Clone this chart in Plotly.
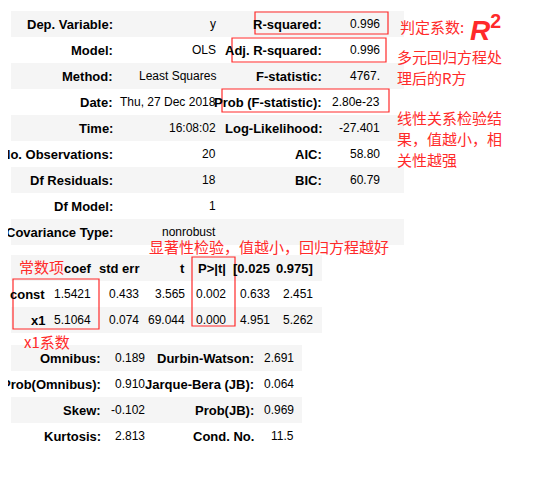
import plotly.graph_objects as go

# top summary block
top_lab1 = ["Dep. Variable:", "Model:", "Method:", "Date:", "Time:", "No. Observations:",
            "Df Residuals:", "Df Model:", "Covariance Type:"]
top_val1 = ["y", "OLS", "Least Squares", "Thu, 27 Dec 2018", "16:08:02", "20", "18", "1", "nonrobust"]
top_lab2 = ["R-squared:", "Adj. R-squared:", "F-statistic:", "Prob (F-statistic):",
            "Log-Likelihood:", "AIC:", "BIC:", "", ""]
top_val2 = ["0.996", "0.996", "4767.", "2.80e-23", "-27.401", "58.80", "60.79", "", ""]

# coefficient block
coef_header = ["", "coef", "std err", "t", "P>|t|", "[0.025", "0.975]"]
coef_rows = [["const", "1.5421", "0.433", "3.565", "0.002", "0.633", "2.451"],
             ["x1", "5.1064", "0.074", "69.044", "0.000", "4.951", "5.262"]]

# diagnostics block
diag_lab1 = ["Omnibus:", "Prob(Omnibus):", "Skew:", "Kurtosis:"]
diag_val1 = ["0.189", "0.910", "-0.102", "2.813"]
diag_lab2 = ["Durbin-Watson:", "Jarque-Bera (JB):", "Prob(JB):", "Cond. No."]
diag_val2 = ["2.691", "0.064", "0.969", "11.5"]

RED = "#ff2a2a"
ROW = 26
FONT = "Liberation Sans, Arial, sans-serif"

fig = go.Figure()
shapes = []
ann = []


def txt(x, y, s, bold=False, anchor="right", color="#000"):
    if s == "":
        return
    ann.append(dict(x=x, y=y, text=f"<b>{s}</b>" if bold else s, showarrow=False,
                    xanchor=anchor, yanchor="middle",
                    font=dict(size=13 if bold else 12, color=color, family=FONT)))


def stripes(x0, x1, top, n, shaded):
    for i in range(n):
        if i in shaded:
            shapes.append(dict(type="rect", x0=x0, x1=x1, y0=top + i * ROW, y1=top + (i + 1) * ROW,
                               fillcolor="#f5f5f5", line_width=0, layer="below"))


# block 1
stripes(11, 404, 11, len(top_lab1), {0, 2, 4, 6, 8})
for i in range(len(top_lab1)):
    y = 11 + ROW / 2 + i * ROW
    txt(115, y, top_lab1[i], bold=True)
    txt(218, y, top_val1[i])
    txt(324, y, top_lab2[i], bold=True)
    txt(382, y, top_val2[i])

# block 2
col_r = [47, 93, 141, 187, 228, 272, 315]
stripes(11, 322, 255, 3, {0, 2})
for j, h in enumerate(coef_header):
    txt(col_r[j], 268, h, bold=True)
for i, row in enumerate(coef_rows):
    y = 255 + ROW * (i + 1) + ROW / 2
    for j, v in enumerate(row):
        txt(col_r[j], y, v, bold=(j == 0))

# block 3
stripes(11, 302, 345, 4, {0, 2})
for i in range(len(diag_lab1)):
    y = 345 + ROW / 2 + i * ROW
    txt(103, y, diag_lab1[i], bold=True)
    txt(147, y, diag_val1[i])
    txt(256, y, diag_lab2[i], bold=True)
    txt(296, y, diag_val2[i])

# red highlight boxes
for x0, x1, y0, y1 in [(255, 388, 12, 34), (232, 386, 38, 62), (222, 389, 89, 112),
                       (13, 99, 279, 329), (192, 235, 257, 326)]:
    shapes.append(dict(type="rect", x0=x0, x1=x1, y0=y0, y1=y1,
                       line=dict(color=RED, width=1.2), fillcolor="rgba(0,0,0,0)"))

# left border of page
shapes.append(dict(type="line", x0=9.5, x1=9.5, y0=0, y1=484, line=dict(color="#ffffff", width=0)))

# red notes
CJK = "Noto Sans CJK SC"
for x, y, s in [(398, 26, "判定系数:"), (395, 56, "多元回归方程处"), (395, 77, "理后的R方"),
                (395, 117, "线性关系检验结"), (395, 138, "果，值越小，相"), (395, 159, "关性越强"),
                (147, 246, "显著性检验，值越小，回归方程越好"), (17, 266, "常数项"), (22, 341, "x1系数")]:
    ann.append(dict(x=x, y=y, text=s, showarrow=False, xanchor="left", yanchor="middle",
                    font=dict(size=15, color=RED, family=CJK)))
ann.append(dict(x=468, y=28, text="<b><i>R</i></b><sup><b>2</b></sup>", showarrow=False,
                xanchor="left", yanchor="middle", font=dict(size=28, color=RED, family=FONT)))

# the page body adds an 8px margin, so the figure is 16px smaller and its axes start at 8
fig.update_layout(
    width=529, height=468, margin=dict(l=0, r=0, t=0, b=0),
    plot_bgcolor="white", paper_bgcolor="white", showlegend=False,
    xaxis=dict(range=[8, 537], visible=False, fixedrange=True),
    yaxis=dict(range=[476, 8], visible=False, fixedrange=True),
    shapes=shapes, annotations=ann,
)
fig.write_html("out.html")
